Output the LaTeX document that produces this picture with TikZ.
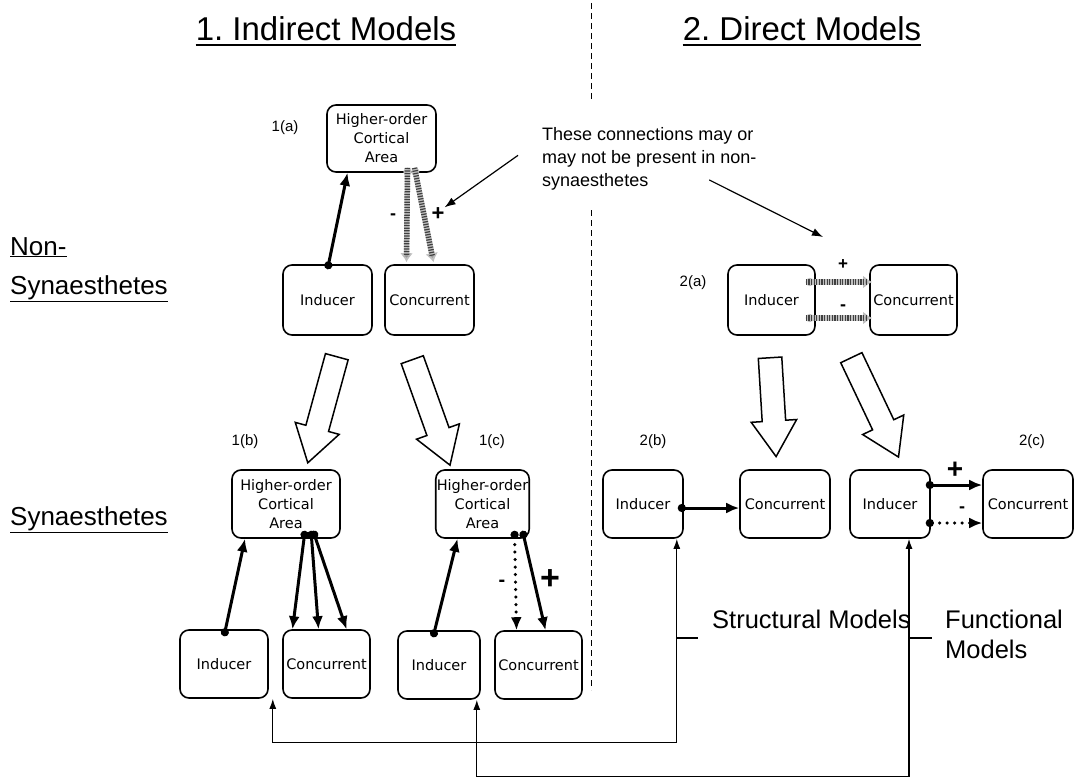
\documentclass[tikz,border=0pt]{standalone}
\usepackage{fontspec}
\setmainfont{Liberation Sans}
\newfontfamily\boxfont{DejaVu Sans}
\usetikzlibrary{arrows.meta,shapes.arrows}
\newcommand\setfs[2]{\fontsize{#1}{#2}\selectfont}

\begin{document}
\frenchspacing
\begin{tikzpicture}[x=1pt, y=-1pt,
    B/.style = {rectangle, draw, rounded corners=9pt, line width=1.6pt,% boxes of the models
                inner sep=1pt, align=center, font=\boxfont\setfs{14.5}{19}},
    L/.style = {inner sep=0pt, font=\setfs{15}{16}},% labels 1(a) ...
    S/.style = {line width=3pt, {Circle[length=8pt]}-{Latex[length=13pt,width=11pt]}},
    D/.style = {S, line width=3.5pt, dash pattern=on 0pt off 7.5pt, line cap=round},
    H/.style = {line width=5.5pt, draw=gray!50, {Circle[length=8pt,fill=gray!75]}-{Latex[length=9pt,width=13pt,fill=gray!75]},% hatched
                postaction={draw=black!75, dash pattern=on 1.2pt off 1.4pt, -, shorten >=6pt}},
    F/.style = {single arrow, draw, fill=white, line width=1.5pt, inner sep=11pt,
                single arrow head extend=11pt, single arrow tip angle=65,
                single arrow head indent=0pt, anchor=tail},
    P/.style = {inner sep=0pt, font=\bfseries\setfs{#1}{#1}},% + and -
    N/.style = {line width=1.2pt, -{Latex[length=11pt,width=8pt]}},
    M/.style = {line width=1.3pt, {Latex[length=10pt,width=7pt]}-{Latex[length=10pt,width=7pt]}},
                        ]
\useasboundingbox (0,0) rectangle (1075,778);
% titles and divider
\node[anchor=base, inner sep=0pt, font=\setfs{33}{38}] (T1) at (326,41) {1. Indirect Models};
\node[anchor=base, inner sep=0pt, font=\setfs{33}{38}] (T2) at (802,41) {2. Direct Models};
\draw[line width=2pt] ([yshift=-4pt]T1.base west) -- ([yshift=-4pt]T1.base east);
\draw[line width=2pt] ([yshift=-4pt]T2.base west) -- ([yshift=-4pt]T2.base east);
\draw[line width=1pt, dash pattern=on 6pt off 4pt] (591,3) -- (591,100) (591,210) -- (591,690);
\node[anchor=base west, inner sep=0pt, align=left, font=\setfs{26}{39}] (NS) at (10,294)
     {\underline{Non-}\\\underline{Synaesthetes}};
\node[anchor=base west, inner sep=0pt, font=\setfs{26}{39}] (SY) at (10,525) {\underline{Synaesthetes}};
% 1(a)
\node[L] (la) at (285,128) {1(a)};
\node[B, minimum width=109pt, minimum height=67pt] (H1a) at (381.5,138.5) {Higher-order\\Cortical\\Area};
\node[B, minimum width=89pt, minimum height=70pt] (I1a) at (327.5,300) {Inducer};
\node[B, minimum width=89pt, minimum height=70pt] (C1a) at (429.5,300) {Concurrent};
\draw[S] ([yshift=-5pt]I1a.north) -- ([xshift=-34pt]H1a.south);
\draw[H] ([xshift=26pt,yshift=5pt]H1a.south) -- ([xshift=-23pt,yshift=2pt]C1a.north);
\draw[H] ([xshift=33pt,yshift=5pt]H1a.south) -- ([xshift=4pt,yshift=2pt]C1a.north);
\node[P=18] (mA) at (393,217) {-};
\node[P=22] (pA) at (438,214) {+};
% 2(a)
\node[L] (lb) at (693,283) {2(a)};
\node[B, minimum width=87pt, minimum height=70pt] (I2a) at (771.5,300) {Inducer};
\node[B, minimum width=87pt, minimum height=70pt] (C2a) at (913.5,300) {Concurrent};
\draw[H] ([xshift=-10pt,yshift=18pt]I2a.east) -- ([xshift=3pt,yshift=18pt]C2a.west);
\draw[H] ([xshift=-10pt,yshift=-18pt]I2a.east) -- ([xshift=3pt,yshift=-18pt]C2a.west);
\node[P=17] (pB) at (843,265) {+};
\node[P=18] (mB) at (843,308) {-};
% note
\node[anchor=base west, inner sep=0pt, align=left, fill=white, font=\setfs{18}{23}] (Note) at (542,186)
     {These connections may or\\may not be present in non-\\synaesthetes};
\draw[N] ([xshift=-24pt,yshift=3pt]Note.west) -- (pA.north east);
\draw[N] ([xshift=60pt,yshift=10pt]Note.south) -- ([xshift=-20pt,yshift=28pt]pB.center);
% hollow arrows
\node[F, minimum height=110pt, rotate=-105.3] (F1) at (337,356) {};
\node[F, minimum height=112pt, rotate=-70.3] (F2) at (412,359) {};
\node[F, minimum height=99pt, rotate=-86.5] (F3) at (770,357) {};
\node[F, minimum height=110pt, rotate=-64.6] (F4) at (851,357) {};
% 1(b)
\node[L] (lc) at (245,442) {1(b)};
\node[B, minimum width=108pt, minimum height=68pt] (H1b) at (286,504) {Higher-order\\Cortical\\Area};
\node[B, minimum width=88pt, minimum height=68pt] (I1b) at (224,664) {Inducer};
\node[B, minimum width=87pt, minimum height=68pt] (C1b) at (326.5,664) {Concurrent};
\draw[S] ([yshift=-7pt]I1b.north) -- ([xshift=-41pt]H1b.south);
\draw[S] ([xshift=19pt,yshift=8pt]H1b.south) -- ([xshift=-34pt]C1b.north);
\draw[S] ([xshift=25pt,yshift=8pt]H1b.south) -- ([xshift=-8pt]C1b.north);
\draw[S] ([xshift=27pt,yshift=8pt]H1b.south) -- ([xshift=20pt]C1b.north);
% 1(c)
\node[L] (ld) at (492,442) {1(c)};
\node[B, minimum width=91pt, minimum height=68pt] (H1c) at (482.5,504) {Higher-order\\Cortical\\Area};
\node[B, minimum width=82pt, minimum height=68pt] (I1c) at (439,665) {Inducer};
\node[B, minimum width=87pt, minimum height=68pt] (C1c) at (538.5,665) {Concurrent};
\draw[S] ([xshift=-6pt,yshift=-7pt]I1c.north) -- ([xshift=-25pt]H1c.south);
\draw[D] ([xshift=32pt,yshift=8pt]H1c.south) -- ([xshift=-22pt]C1c.north);
\draw[S] ([xshift=40pt,yshift=8pt]H1c.south) -- ([xshift=7pt]C1c.north);
\node[P=20] (mC) at (502,583) {-};
\node[P=34] (pC) at (550,580) {+};
% 2(b)
\node[L] (le) at (653,442) {2(b)};
\node[B, minimum width=80pt, minimum height=68pt] (I2b) at (643,504) {Inducer};
\node[B, minimum width=90pt, minimum height=68pt] (C2b) at (785,504) {Concurrent};
\draw[S] ([xshift=-6pt,yshift=-4pt]I2b.east) -- ([yshift=-4pt]C2b.west);
% 2(c)
\node[L] (lf) at (1032,442) {2(c)};
\node[B, minimum width=80pt, minimum height=68pt] (I2c) at (890,504) {Inducer};
\node[B, minimum width=90pt, minimum height=68pt] (C2c) at (1028,504) {Concurrent};
\draw[S] ([xshift=-5pt,yshift=19pt]I2c.east) -- ([yshift=19pt]C2c.west);
\draw[D] ([xshift=-5pt,yshift=-19pt]I2c.east) -- ([yshift=-19pt]C2c.west);
\node[P=28] (pD) at (955,470) {+};
\node[P=18] (mD) at (962,510) {-};
% model groups
\draw[M] ([xshift=4pt]I1b.south east) -- ++(0,44) -| ([xshift=-7pt]I2b.south east);
\draw[M] ([xshift=-4pt]I1c.south east) -- ++(0,77) -| ([xshift=19pt]I2c.south);
\draw[line width=1.2pt] (676,638) -- ++(22,0) (909,638) -- ++(23,0);
\node[anchor=base west, inner sep=0pt, font=\setfs{25.5}{30}] (SM) at (712,628) {Structural Models};
\node[anchor=base west, inner sep=0pt, align=left, font=\setfs{25.5}{30}] (FM) at (945,658) {Functional\\Models};
\end{tikzpicture}
\end{document}
